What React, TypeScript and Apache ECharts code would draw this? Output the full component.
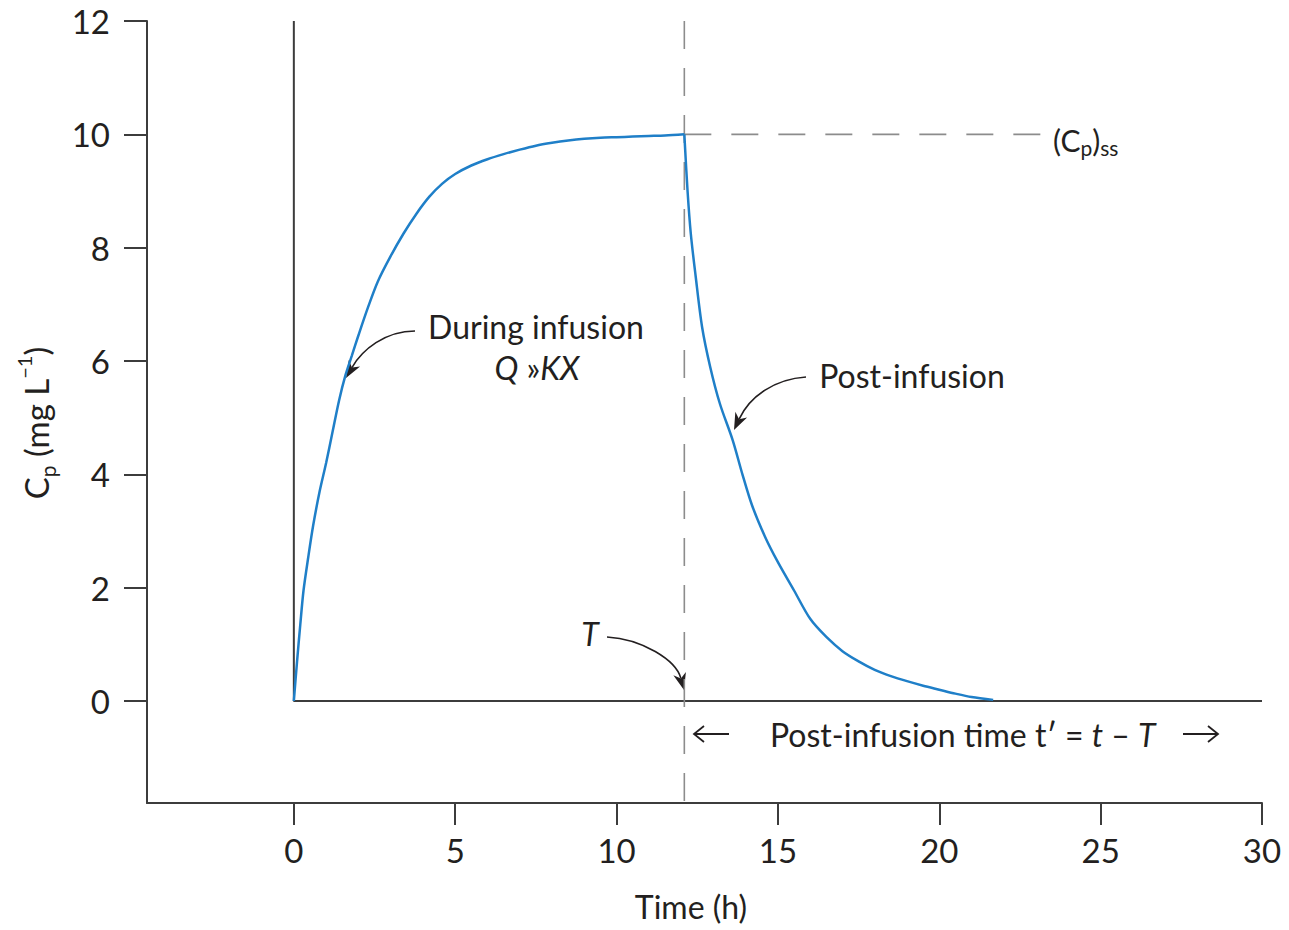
import React, { useEffect, useRef } from "react";
import * as echarts from "echarts";

// ---- Data ----
const riseTime = [0, 0.1, 0.2, 0.3, 0.45, 0.6, 0.8, 1.0, 1.2, 1.4, 1.6, 1.8, 2.0, 2.3, 2.6, 3.0, 3.4, 3.8, 4.2, 4.6, 5.0, 5.5, 6.0, 6.5, 7.0, 7.5, 8.0, 8.5, 9.0, 9.5, 10, 10.5, 11, 11.5, 12.1];
const riseConc = [0, 0.7, 1.35, 1.95, 2.55, 3.1, 3.7, 4.2, 4.75, 5.3, 5.75, 6.1, 6.45, 6.95, 7.4, 7.85, 8.25, 8.6, 8.9, 9.13, 9.3, 9.45, 9.56, 9.65, 9.73, 9.8, 9.85, 9.89, 9.92, 9.94, 9.95, 9.96, 9.97, 9.98, 10];
const fallTime = [12.1, 12.2, 12.3, 12.45, 12.65, 12.9, 13.2, 13.6, 13.9, 14.2, 14.6, 15.0, 15.5, 16, 16.5, 17, 17.5, 18, 18.5, 19, 19.5, 20, 20.5, 21, 21.67];
const fallConc = [10, 9.0, 8.25, 7.5, 6.6, 5.9, 5.25, 4.6, 4.0, 3.45, 2.9, 2.45, 1.95, 1.45, 1.13, 0.88, 0.7, 0.55, 0.44, 0.35, 0.27, 0.2, 0.13, 0.07, 0.02];
const xTicks = [0, 5, 10, 15, 20, 25, 30];
const yTicks = [0, 2, 4, 6, 8, 10, 12];
const xRange = [-4.55, 30];
const yRange = [-1.8, 12];
const infusionEnd = 12.1; // T
const steadyState = 10; // (Cp)ss
const ssLineEnd = 23.2;

const INK = "#231f20";
const AXIS = "#3c3c3c";
const BLUE = "#1f7fc8";
const DASH = "#8c8c8c";
const FONT = "Lato, 'Open Sans', sans-serif";

function curvedArrow(p0: number[], c1: number[], c2: number[], tip: number[]) {
  const dx = tip[0] - c2[0];
  const dy = tip[1] - c2[1];
  const len = Math.hypot(dx, dy);
  const ux = dx / len;
  const uy = dy / len;
  const headLen = 17;
  const headW = 6.5;
  const base = [tip[0] - ux * headLen, tip[1] - uy * headLen];
  const px = -uy;
  const py = ux;
  return [
    {
      type: "bezierCurve",
      shape: {
        x1: p0[0], y1: p0[1],
        cpx1: c1[0], cpy1: c1[1],
        cpx2: c2[0], cpy2: c2[1],
        x2: base[0] + ux * 5, y2: base[1] + uy * 5,
      },
      style: { stroke: INK, lineWidth: 1.6, fill: null },
    },
    {
      type: "polygon",
      shape: {
        points: [
          tip,
          [base[0] + px * headW, base[1] + py * headW],
          [base[0] + ux * 5, base[1] + uy * 5],
          [base[0] - px * headW, base[1] - py * headW],
        ],
      },
      style: { fill: INK },
    },
  ];
}

function straightArrow(x1: number, x2: number, y: number) {
  const dir = x2 > x1 ? 1 : -1;
  return [
    { type: "line", shape: { x1, y1: y, x2, y2: y }, style: { stroke: INK, lineWidth: 1.8 } },
    {
      type: "polyline",
      shape: { points: [[x2 - dir * 10, y - 8], [x2, y], [x2 - dir * 10, y + 8]] },
      style: { stroke: INK, lineWidth: 1.8, fill: null },
    },
  ];
}

export default function App() {
  const ref = useRef<HTMLDivElement>(null);

  useEffect(() => {
    document.body.style.margin = "0";
    if (!ref.current) return;
    const chart = echarts.init(ref.current, null, { renderer: "svg" });

    const rise = riseTime.map((t, i) => [t, riseConc[i]]);
    const fall = fallTime.map((t, i) => [t, fallConc[i]]);

    const option: any = {
      animation: false,
      backgroundColor: "#ffffff",
      grid: { left: 147, top: 21, width: 1115, height: 782, outerBoundsMode: "none" },
      xAxis: {
        type: "value",
        min: xRange[0],
        max: xRange[1],
        splitLine: { show: false },
        axisLine: { show: true, onZero: false, lineStyle: { color: AXIS, width: 2 } },
        axisTick: { show: true, length: 22, customValues: xTicks, lineStyle: { color: AXIS, width: 2 } },
        axisLabel: {
          customValues: xTicks,
          margin: 30,
          fontSize: 33,
          fontFamily: FONT,
          color: INK,
        },
      },
      yAxis: {
        type: "value",
        min: yRange[0],
        max: yRange[1],
        splitLine: { show: false },
        axisLine: { show: true, onZero: false, lineStyle: { color: AXIS, width: 2 } },
        axisTick: { show: true, length: 23, customValues: yTicks, lineStyle: { color: AXIS, width: 2 } },
        axisLabel: {
          customValues: yTicks,
          margin: 37,
          fontSize: 33,
          fontFamily: FONT,
          color: INK,
        },
      },
      series: [
        {
          type: "line",
          name: "inner axes",
          data: [[0, yRange[1]], [0, 0], [xRange[1], 0]],
          showSymbol: false,
          lineStyle: { color: AXIS, width: 2 },
          z: 2,
        },
        {
          type: "line",
          name: "T",
          data: [[infusionEnd, yRange[1]], [infusionEnd, yRange[0]]],
          showSymbol: false,
          lineStyle: { color: DASH, width: 1.6, type: [28, 19] },
          z: 3,
        },
        {
          type: "line",
          name: "Cp ss",
          data: [[infusionEnd, steadyState], [ssLineEnd, steadyState]],
          showSymbol: false,
          lineStyle: { color: DASH, width: 1.6, type: [27, 20] },
          z: 3,
        },
        {
          type: "line",
          name: "During infusion",
          data: rise,
          showSymbol: false,
          smooth: 0.3,
          lineStyle: { color: BLUE, width: 2.5 },
          z: 5,
        },
        {
          type: "line",
          name: "Post-infusion",
          data: fall,
          showSymbol: false,
          smooth: 0.3,
          lineStyle: { color: BLUE, width: 2.5 },
          z: 5,
        },
      ],
      graphic: [
        // y-axis name
        {
          type: "text",
          x: 36,
          y: 423,
          rotation: Math.PI / 2,
          style: {
            text: "{n|C}{sub|p}{n| (mg L}{sup|−1}{n|)}",
            align: "center",
            verticalAlign: "middle",
            fill: INK,
            fontFamily: FONT,
            fontSize: 33,
            rich: {
              n: { fontSize: 33, fontFamily: FONT, fill: INK, lineHeight: 44, verticalAlign: "middle" },
              sub: { fontSize: 21, fontFamily: FONT, fill: INK, lineHeight: 20, verticalAlign: "bottom" },
              sup: { fontSize: 20, fontFamily: FONT, fill: INK, lineHeight: 26, verticalAlign: "top" },
            },
          },
        },
        // x-axis name
        {
          type: "text",
          x: 691,
          y: 906,
          style: {
            text: "Time (h)",
            align: "center",
            verticalAlign: "middle",
            fill: INK,
            fontFamily: FONT,
            fontSize: 32,
          },
        },
        // During infusion
        {
          type: "text",
          x: 536,
          y: 326,
          style: {
            text: "During infusion",
            align: "center",
            verticalAlign: "middle",
            fill: INK,
            fontFamily: FONT,
            fontSize: 32,
          },
        },
        {
          type: "text",
          x: 537,
          y: 367,
          style: {
            text: "{i|Q} {n|»}{i|KX}",
            align: "center",
            verticalAlign: "middle",
            fill: INK,
            fontFamily: FONT,
            fontSize: 32,
            rich: {
              i: { fontSize: 32, fontFamily: FONT, fontStyle: "italic", fill: INK },
              n: { fontSize: 32, fontFamily: FONT, fill: INK },
            },
          },
        },
        // Post-infusion
        {
          type: "text",
          x: 912,
          y: 375,
          style: {
            text: "Post-infusion",
            align: "center",
            verticalAlign: "middle",
            fill: INK,
            fontFamily: FONT,
            fontSize: 32,
          },
        },
        // (Cp)ss
        {
          type: "text",
          x: 1053,
          y: 140,
          style: {
            text: "{n|(C}{sub|p}{n|)}{ss|ss}",
            align: "left",
            verticalAlign: "middle",
            fill: INK,
            fontFamily: FONT,
            fontSize: 30,
            rich: {
              n: { fontSize: 30, fontFamily: FONT, fill: INK, lineHeight: 36, verticalAlign: "middle" },
              sub: { fontSize: 21, fontFamily: FONT, fill: INK, lineHeight: 20, verticalAlign: "bottom" },
              ss: { fontSize: 21, fontFamily: FONT, fill: INK, lineHeight: 26, verticalAlign: "bottom" },
            },
          },
        },
        // T
        {
          type: "text",
          x: 590,
          y: 633,
          style: {
            text: "T",
            align: "center",
            verticalAlign: "middle",
            fill: INK,
            fontFamily: FONT,
            fontStyle: "italic",
            fontSize: 32,
          },
        },
        // Post-infusion time
        {
          type: "text",
          x: 770,
          y: 734,
          style: {
            text: "{n|Post-infusion time t′ = }{i|t}{n| – }{i|T}",
            align: "left",
            verticalAlign: "middle",
            fill: INK,
            fontFamily: FONT,
            fontSize: 32,
            rich: {
              i: { fontSize: 32, fontFamily: FONT, fontStyle: "italic", fill: INK },
              n: { fontSize: 32, fontFamily: FONT, fill: INK },
            },
          },
        },
        ...straightArrow(729, 694, 734),
        ...straightArrow(1183, 1218, 734),
        ...curvedArrow([415, 331], [385, 331], [362, 350], [346, 378]),
        ...curvedArrow([806, 377], [775, 379], [750, 396], [734, 430]),
        ...curvedArrow([607, 637], [642, 639], [676, 660], [684, 690]),
      ],
    };

    chart.setOption(option);
    return () => chart.dispose();
  }, []);

  return <div ref={ref} style={{ width: 1289, height: 930 }} />;
}
